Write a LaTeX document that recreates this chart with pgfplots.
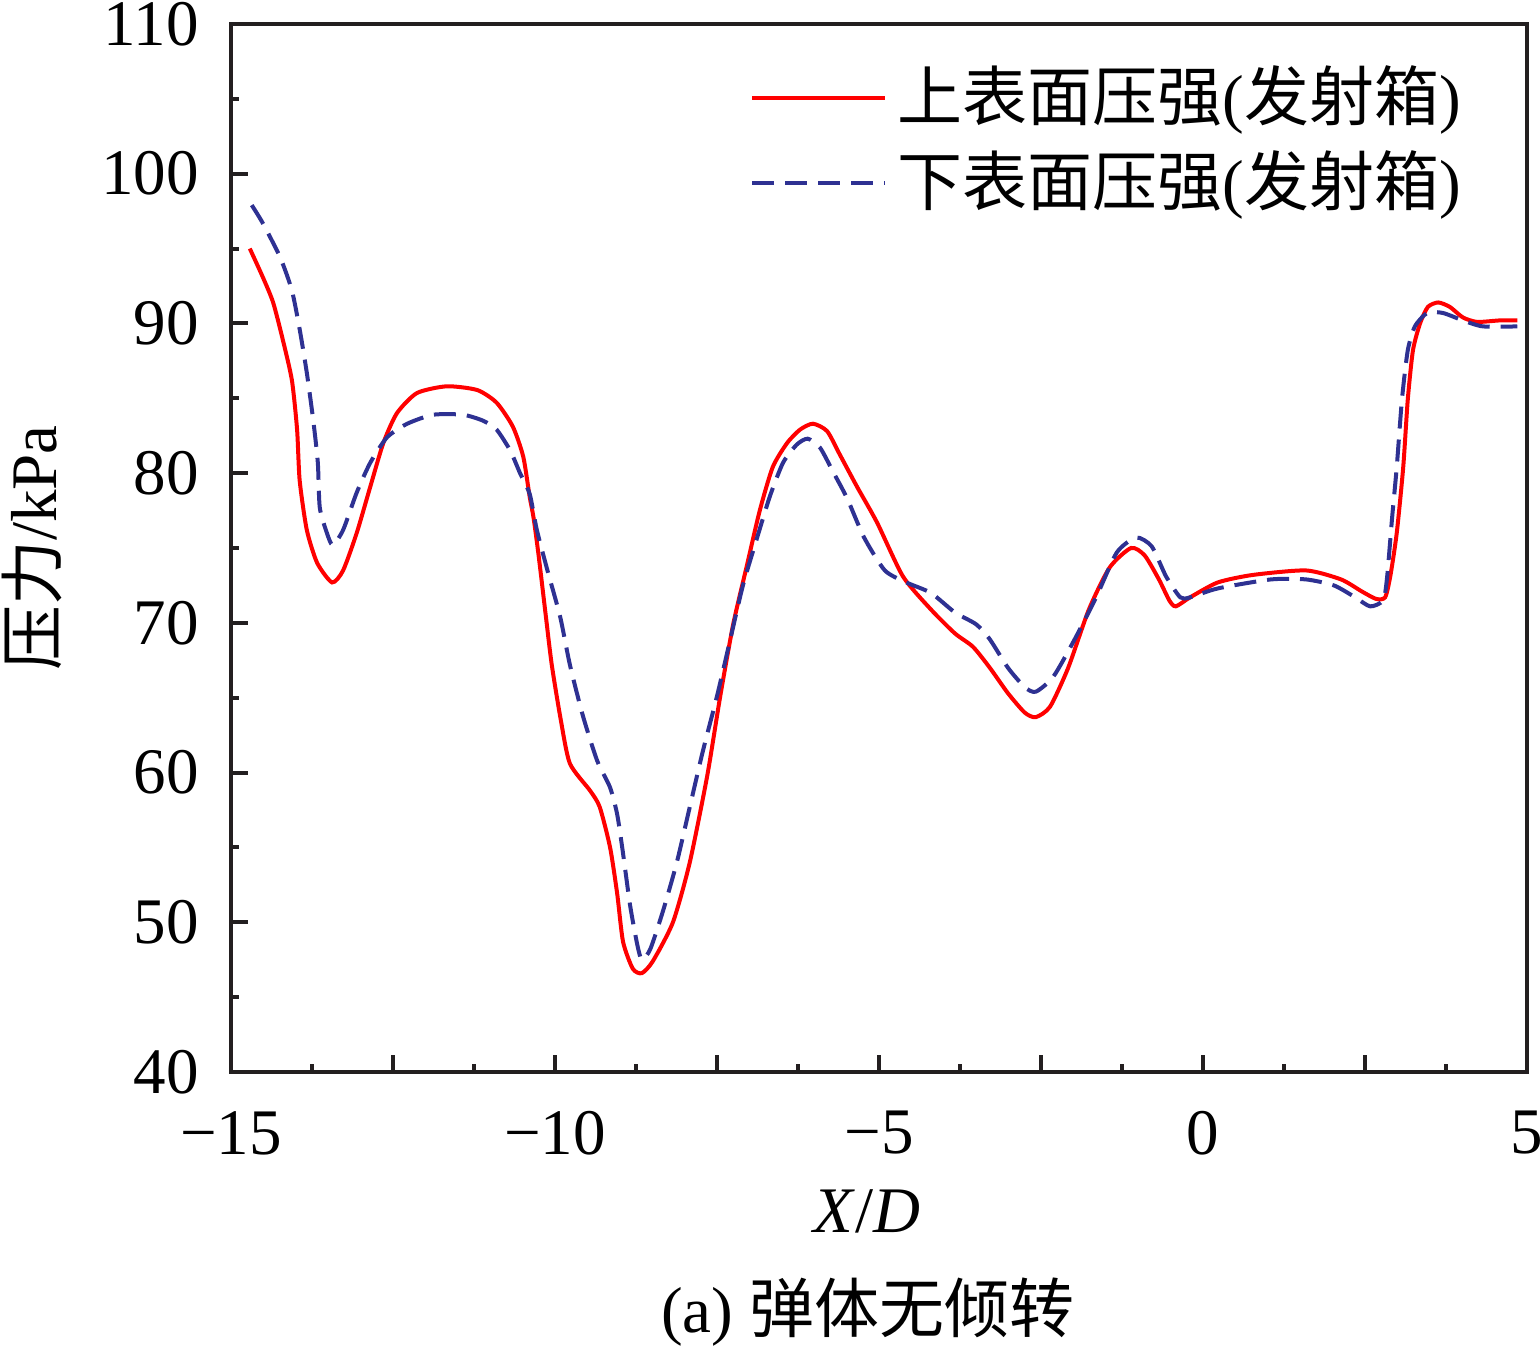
\documentclass[border=0pt]{standalone}
\usepackage{fontspec}
\setmainfont{Liberation Serif}
\newfontfamily\cjk{Noto Sans CJK SC}
\usepackage{pgfplots}
\pgfplotsset{compat=1.18}
\definecolor{myred}{RGB}{255,0,0}
\definecolor{myblue}{RGB}{46,49,146}
\definecolor{axgray}{RGB}{35,31,32}
\begin{document}
\fontsize{13}{15.6}\selectfont
\begin{tikzpicture}
\begin{axis}[
  width=259.2pt, height=209.6pt, scale only axis,
  xmin=-15, xmax=5, ymin=40, ymax=110,
  axis line style={axgray, line width=0.8pt},
  tick style={axgray, line width=0.8pt},
  tick align=inside, tick pos=left,
  major tick length=3.4pt, minor tick length=1.6pt,
  xtick={-15,-12.5,-10,-7.5,-5,-2.5,0,2.5,5},
  xticklabels={−15,,−10,,−5,,0,,5},
  minor x tick num=1,
  ytick={40,50,...,110},
  minor y tick num=1,
  /pgf/number format/assume math mode=true,
  yticklabel style={xshift=-1.9pt},
  xticklabel style={yshift=-3.3pt},
  legend style={draw=none, fill=none, at={(rel axis cs:0.400,0.966)}, anchor=north west,
    inner sep=0pt, row sep=2pt, nodes={inner xsep=2pt, inner ysep=1pt},
    /tikz/every odd column/.append style={column sep=0pt}},
  legend image code/.code={\draw[#1] (0pt,0pt) -- (26.6pt,0pt);},
  legend cell align=left,
]
\addplot[myred, line width=0.8pt, smooth, tension=0.4] coordinates {
(-14.71,95.0) (-14.51,93.1) (-14.35,91.4) (-14.20,88.9) (-14.06,86.2) (-13.98,82.9)
(-13.94,79.5) (-13.83,76.2) (-13.67,74.0) (-13.44,72.7) (-13.27,73.5) (-13.06,76.0)
(-12.85,79.1) (-12.65,82.0) (-12.44,84.0) (-12.13,85.35) (-11.67,85.8) (-11.20,85.55)
(-10.90,84.7) (-10.65,83.1) (-10.49,81.1) (-10.39,78.4) (-10.33,77.0) (-10.25,74.4)
(-10.14,70.4) (-10.05,67.2) (-9.91,63.5) (-9.77,60.6) (-9.46,58.8) (-9.31,57.7)
(-9.15,55.0) (-9.04,51.9) (-8.95,48.7) (-8.80,46.9) (-8.66,46.6) (-8.49,47.4)
(-8.18,50.0) (-7.92,54.0) (-7.65,59.8) (-7.45,65.1) (-7.25,69.9) (-7.04,73.8)
(-6.84,77.5) (-6.64,80.4) (-6.42,82.0) (-6.22,82.9) (-6.02,83.3) (-5.80,82.8)
(-5.60,81.2) (-5.34,79.1) (-5.03,76.7) (-4.63,73.1) (-4.20,70.9) (-3.83,69.3)
(-3.55,68.4) (-3.29,67.0) (-3.01,65.3) (-2.75,64.0) (-2.58,63.7) (-2.36,64.4)
(-2.08,67.0) (-1.76,70.9) (-1.44,73.7) (-1.11,75.0) (-0.90,74.5) (-0.68,72.9)
(-0.52,71.5) (-0.42,71.1) (-0.20,71.7) (0.23,72.7) (0.77,73.2) (1.59,73.5)
(2.13,72.9) (2.45,72.1) (2.67,71.6) (2.81,71.7) (2.89,73.1) (2.99,76.0)
(3.09,80.4) (3.16,84.9) (3.24,88.2) (3.35,90.0) (3.47,91.1) (3.63,91.4)
(3.81,91.1) (4.01,90.4) (4.23,90.1) (4.58,90.2) (4.85,90.2)
};
\addlegendentry{{\cjk 上表面压强}({\cjk 发射箱})}
\addplot[myblue, line width=0.8pt, dash pattern=on 4.4pt off 2.2pt, smooth, tension=0.4] coordinates {
(-14.68,97.9) (-14.51,96.7) (-14.24,94.4) (-14.06,92.2) (-13.94,89.6) (-13.83,86.7)
(-13.73,83.5) (-13.66,80.7) (-13.63,77.7) (-13.52,76.0) (-13.43,75.2) (-13.27,76.2)
(-13.06,78.7) (-12.85,80.7) (-12.59,82.4) (-12.28,83.3) (-11.88,83.9) (-11.42,83.9)
(-11.11,83.5) (-10.90,82.9) (-10.69,81.5) (-10.54,80.0) (-10.39,78.6) (-10.28,76.2)
(-10.11,73.4) (-9.92,70.4) (-9.77,67.2) (-9.57,63.8) (-9.35,60.8) (-9.15,59.0)
(-9.04,57.2) (-8.95,54.6) (-8.84,51.1) (-8.73,48.5) (-8.66,47.5) (-8.53,48.2)
(-8.33,50.8) (-8.12,54.0) (-7.92,57.7) (-7.72,61.4) (-7.50,65.1) (-7.30,68.8)
(-7.10,72.5) (-6.88,75.7) (-6.68,78.5) (-6.48,80.7) (-6.27,81.9) (-6.10,82.3)
(-5.91,81.7) (-5.71,80.1) (-5.49,78.3) (-5.23,75.7) (-4.91,73.5) (-4.58,72.7)
(-4.20,72.0) (-3.83,70.7) (-3.50,69.9) (-3.29,68.9) (-3.01,67.0) (-2.75,65.7)
(-2.58,65.4) (-2.31,66.4) (-1.98,68.9) (-1.65,71.7) (-1.33,74.7) (-1.03,75.7)
(-0.79,75.1) (-0.57,73.1) (-0.35,71.7) (-0.20,71.7) (0.23,72.3) (1.05,72.9)
(1.59,72.9) (2.02,72.5) (2.35,71.7) (2.58,71.1) (2.78,71.5) (2.84,73.0)
(2.92,77.1) (2.99,80.4) (3.07,84.9) (3.16,88.2) (3.27,89.8) (3.46,90.7)
(3.70,90.7) (4.01,90.2) (4.32,89.8) (4.85,89.8)
};
\addlegendentry{{\cjk 下表面压强}({\cjk 发射箱})}
\coordinate (bl) at (rel axis cs:0,0);
\coordinate (tr) at (rel axis cs:1,1);
\end{axis}
\node[rotate=90, anchor=center, inner sep=0pt] at ([shift={(-39.8pt,104.8pt)}]bl) {{\cjk 压力}/kPa};
\node[anchor=base, inner sep=0pt] at ([shift={(127.2pt,-32.2pt)}]bl) {\textit{X}/\textit{D}};
\node[anchor=base, inner sep=0pt] at ([shift={(127.4pt,-52.2pt)}]bl) {(a) {\cjk 弹体无倾转}};
\pgfresetboundingbox
\path[use as bounding box] ([shift={(-46.2pt,-55pt)}]bl) rectangle ([shift={(2.6pt,4.8pt)}]tr);
\end{tikzpicture}
\end{document}
